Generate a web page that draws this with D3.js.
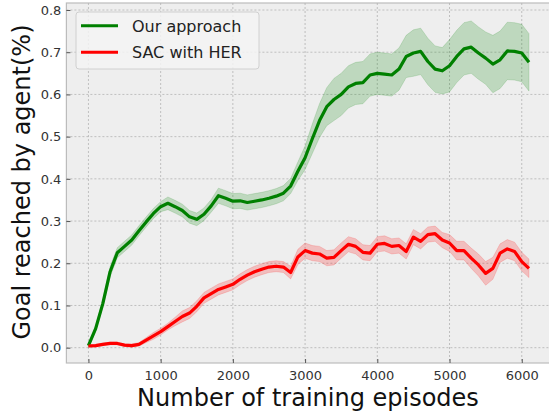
<!DOCTYPE html>
<html>
<head>
<meta charset="utf-8">
<script src="https://d3js.org/d3.v7.min.js"></script>
<style>
  body { margin: 0; background: #fff; }
  text { font-family: "DejaVu Sans", sans-serif; }
</style>
</head>
<body>
<div id="visu"></div>
<script>

// Episodes (every 100)
var episodes = d3.range(0, 6101, 100);

// Our approach: mean and half-width of band
var ours_mean = [
  0.005, 0.045, 0.105, 0.180, 0.225, 0.240, 0.255, 0.277, 0.298, 0.318,
  0.334, 0.342, 0.334, 0.325, 0.310, 0.304, 0.316, 0.336, 0.360, 0.354,
  0.347, 0.348, 0.344, 0.347, 0.350, 0.354, 0.359, 0.366, 0.383, 0.418,
  0.450, 0.495, 0.538, 0.571, 0.588, 0.600, 0.618, 0.626, 0.628, 0.646,
  0.650, 0.648, 0.646, 0.660, 0.690, 0.698, 0.702, 0.678, 0.660, 0.656,
  0.668, 0.690, 0.708, 0.712, 0.698, 0.686, 0.672, 0.682, 0.703, 0.702,
  0.698, 0.676
];
var ours_std = [
  0.004, 0.006, 0.008, 0.012, 0.012, 0.012, 0.012, 0.012, 0.012, 0.012,
  0.012, 0.015, 0.015, 0.015, 0.015, 0.015, 0.015, 0.015, 0.018, 0.018,
  0.018, 0.018, 0.018, 0.018, 0.018, 0.018, 0.018, 0.018, 0.018, 0.022,
  0.028, 0.035, 0.040, 0.045, 0.050, 0.050, 0.050, 0.050, 0.050, 0.050,
  0.050, 0.050, 0.050, 0.050, 0.050, 0.055, 0.055, 0.055, 0.055, 0.055,
  0.062, 0.062, 0.062, 0.062, 0.062, 0.062, 0.068, 0.068, 0.068, 0.068,
  0.068, 0.068
];

// SAC with HER
var sac_mean = [
  0.004, 0.005, 0.008, 0.010, 0.010, 0.006, 0.005, 0.008, 0.018, 0.028,
  0.038, 0.050, 0.062, 0.074, 0.082, 0.098, 0.118, 0.128, 0.138, 0.144,
  0.150, 0.162, 0.172, 0.180, 0.186, 0.191, 0.193, 0.191, 0.178, 0.215,
  0.230, 0.224, 0.222, 0.212, 0.214, 0.230, 0.245, 0.240, 0.226, 0.224,
  0.245, 0.247, 0.240, 0.242, 0.228, 0.262, 0.252, 0.268, 0.270, 0.255,
  0.248, 0.230, 0.230, 0.212, 0.196, 0.176, 0.188, 0.224, 0.234, 0.228,
  0.204, 0.188
];
var sac_std = [
  0.003, 0.003, 0.003, 0.003, 0.003, 0.003, 0.004, 0.004, 0.006, 0.008,
  0.008, 0.008, 0.010, 0.013, 0.013, 0.013, 0.013, 0.013, 0.013, 0.013,
  0.013, 0.013, 0.013, 0.013, 0.013, 0.013, 0.013, 0.013, 0.015, 0.018,
  0.018, 0.018, 0.018, 0.018, 0.018, 0.018, 0.018, 0.018, 0.018, 0.018,
  0.018, 0.018, 0.018, 0.018, 0.018, 0.018, 0.018, 0.018, 0.018, 0.018,
  0.020, 0.022, 0.022, 0.024, 0.026, 0.028, 0.026, 0.022, 0.022, 0.022,
  0.022, 0.022
];

var x_ticks = [0, 1000, 2000, 3000, 4000, 5000, 6000];
var y_ticks = [0.0, 0.1, 0.2, 0.3, 0.4, 0.5, 0.6, 0.7, 0.8];

var series = [
  {nom: "Our approach", moy: ours_mean, ecart: ours_std, couleur: "#008000"},
  {nom: "SAC with HER", moy: sac_mean, ecart: sac_std, couleur: "#ff0000"}
];

var largeur = 549, hauteur = 414;
var gauche = 66.4, droite = 551, haut = 3, bas = 363;

var svg = d3.select("#visu").append("svg")
    .attr("width", largeur)
    .attr("height", hauteur);

var x = d3.scaleLinear().domain([-305, 6405]).range([gauche, droite]);
var y = d3.scaleLinear().domain([-0.0363, 0.8166]).range([bas, haut]);

// fond du graphe
svg.append("rect")
  .attr("x", gauche).attr("y", haut)
  .attr("width", droite - gauche).attr("height", bas - haut)
  .attr("fill", "#eeeeee")
  .attr("stroke", "#bcbcbc").attr("stroke-width", 1.2);

// grille
svg.append("g").selectAll("line").data(x_ticks).join("line")
  .attr("x1", d => x(d)).attr("x2", d => x(d))
  .attr("y1", haut).attr("y2", bas)
  .attr("stroke", "#b2b2b2").attr("stroke-width", 0.8)
  .attr("stroke-dasharray", "2,2");
svg.append("g").selectAll("line").data(y_ticks).join("line")
  .attr("x1", gauche).attr("x2", droite)
  .attr("y1", d => y(d)).attr("y2", d => y(d))
  .attr("stroke", "#b2b2b2").attr("stroke-width", 0.8)
  .attr("stroke-dasharray", "2,2");

// courbes
var aire = d3.area()
  .x((d, i) => x(episodes[i]))
  .y0(d => y(d[0] - d[1]))
  .y1(d => y(d[0] + d[1]));
var ligne = d3.line()
  .x((d, i) => x(episodes[i]))
  .y(d => y(d));

series.forEach(function(s) {
  var pts = s.moy.map((m, i) => [m, s.ecart[i]]);
  svg.append("path")
    .attr("d", aire(pts))
    .attr("fill", s.couleur)
    .attr("fill-opacity", 0.2)
    .attr("stroke", s.couleur)
    .attr("stroke-opacity", 0.15);
});
series.forEach(function(s) {
  svg.append("path")
    .attr("d", ligne(s.moy))
    .attr("fill", "none")
    .attr("stroke", s.couleur)
    .attr("stroke-width", 3.2)
    .attr("stroke-linejoin", "round");
});

// axes
var axeX = svg.append("g")
  .attr("transform", "translate(0," + bas + ")")
  .call(d3.axisBottom(x).tickValues(x_ticks).tickSize(-4).tickPadding(8).tickFormat(d3.format("d")));
var axeY = svg.append("g")
  .attr("transform", "translate(" + gauche + ",0)")
  .call(d3.axisLeft(y).tickValues(y_ticks).tickSize(-4).tickPadding(5).tickFormat(d3.format(".1f")));
[axeX, axeY].forEach(function(a) {
  a.select(".domain").remove();
  a.selectAll(".tick line").attr("stroke", "#555").attr("stroke-width", 1);
  a.selectAll(".tick text")
    .attr("font-family", "DejaVu Sans")
    .attr("font-size", 13)
    .attr("fill", "#333");
});

// titres des axes
svg.append("text")
  .attr("x", 308).attr("y", 406)
  .attr("text-anchor", "middle")
  .attr("font-size", 24)
  .attr("fill", "#111")
  .text("Number of training episodes");
svg.append("text")
  .attr("transform", "translate(30," + 182 + ") rotate(-90)")
  .attr("text-anchor", "middle")
  .attr("font-size", 24)
  .attr("fill", "#111")
  .text("Goal reached by agent(%)");

// légende
var leg = svg.append("g");
leg.append("rect")
  .attr("x", 76).attr("y", 12)
  .attr("width", 183).attr("height", 57)
  .attr("rx", 3)
  .attr("fill", "#f3f3f3").attr("fill-opacity", 0.85)
  .attr("stroke", "#d0d0d0");
series.forEach(function(s, i) {
  var yy = 25.7 + i * 26.6;
  leg.append("line")
    .attr("x1", 81).attr("x2", 118)
    .attr("y1", yy).attr("y2", yy)
    .attr("stroke", s.couleur).attr("stroke-width", 3);
  leg.append("text")
    .attr("x", 132).attr("y", yy + 5.8)
    .attr("font-size", 16)
    .attr("fill", "#222")
    .text(s.nom);
});

</script>
</body>
</html>
